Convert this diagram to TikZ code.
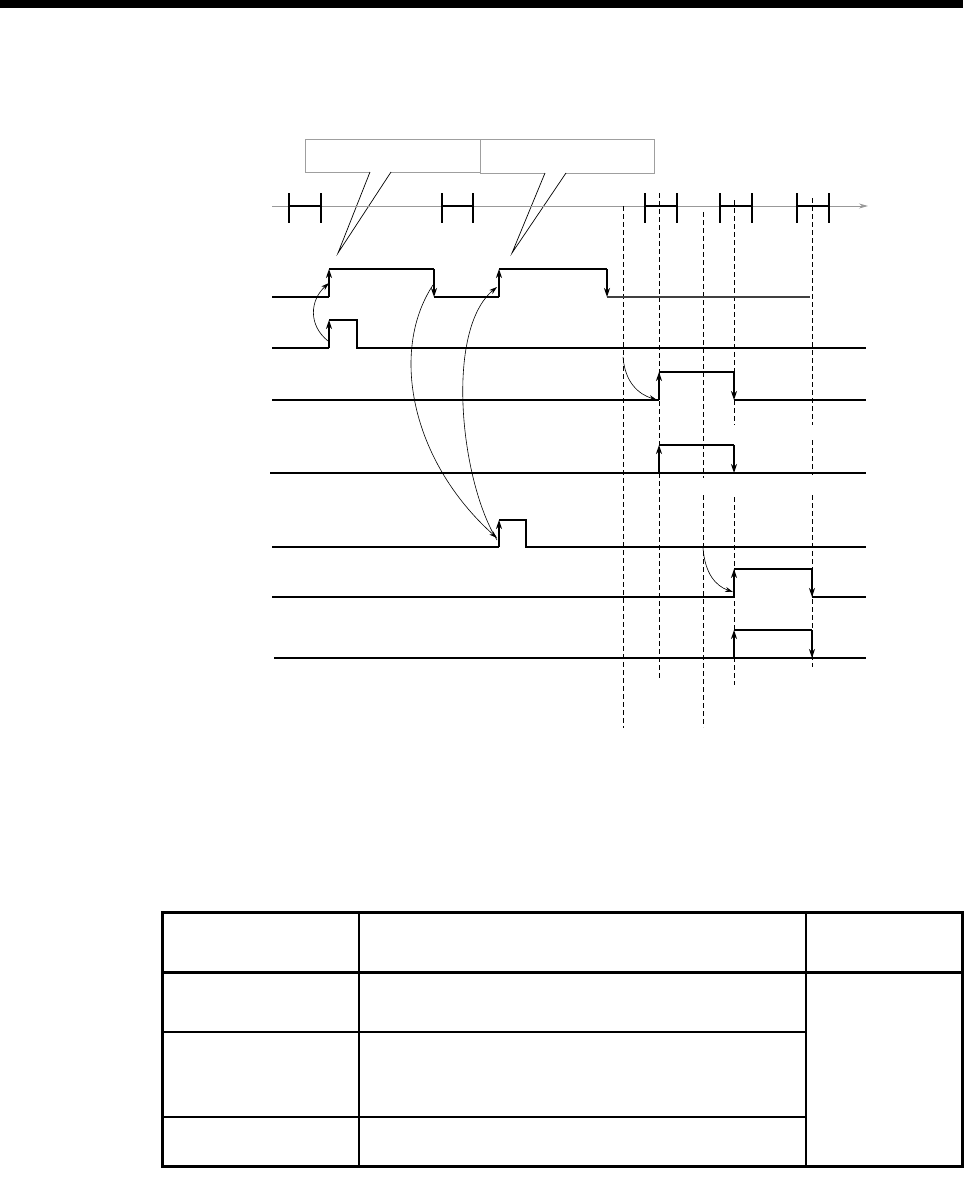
\documentclass[tikz,border=0pt]{standalone}
\usetikzlibrary{arrows.meta}
\begin{document}
\begin{tikzpicture}[x=1pt,y=-1pt,
  sig/.style={line width=1.1pt,line join=miter},
  upedge/.style={line width=1.1pt,-{Stealth[length=9pt,width=6pt]}},
  axisline/.style={line width=0.9pt,draw=gray!70},
  tickline/.style={line width=1.1pt},
  dashline/.style={line width=0.9pt,dash pattern=on 5pt off 3pt},
  callbox/.style={line width=0.8pt,draw=gray!75},
  pointer/.style={line width=0.7pt},
  cause/.style={line width=0.6pt,-{Stealth[length=8pt,width=5pt]}},
  frame/.style={line width=3pt},
  thinrule/.style={line width=1.5pt},
  midrule/.style={line width=2pt}]
\useasboundingbox (0,0) rectangle (964,1178);
% top bar
\fill (0,0) rectangle (963,8);

% callout boxes
\draw[callbox] (370,172) -- (305,172) -- (305,139) -- (480,139) -- (480,172) -- (391,172);
\draw[pointer] (370,172) -- (338,253) -- (391,172);
\draw[callbox] (545,173) -- (480,173) -- (480,139) -- (654,139) -- (654,173) -- (566,173);
\draw[pointer] (545,173) -- (512,253) -- (566,173);

% time axis
\coordinate (axS) at (272,206);
\coordinate (axE) at (868,206);
\draw[axisline,-{Stealth[length=9pt,width=5pt]}, draw=gray!80] (axS) -- (axE);
\foreach \a/\b in {289/321,442/473,645/677,720/752,797/829}{
  \draw[tickline] (\a,193) -- (\a,223);
  \draw[tickline] (\b,193) -- (\b,223);
  \draw[tickline] (\a,206) -- (\b,206);
}

% dashed verticals
\draw[dashline] (623,206) -- (623,728);
\draw[dashline] (659,193) -- (659,678);
\draw[dashline] (703,212) -- (703,478);
\draw[dashline] (703,495) -- (703,727);
\draw[dashline] (734,200) -- (734,425);
\draw[dashline] (734,497) -- (734,685);
\draw[dashline] (812,198) -- (812,425);
\draw[dashline] (812,440) -- (812,475);
\draw[dashline] (812,495) -- (812,667);

% signal A
\draw[sig] (272,297) -- (329,297);
\draw[upedge] (329,297) -- (329,269);
\draw[sig] (329,269) -- (434,269);
\draw[upedge] (434,269) -- (434,297);
\draw[sig] (434,297) -- (499,297);
\draw[upedge] (499,297) -- (499,269);
\draw[sig] (499,269) -- (607,269);
\draw[upedge] (607,269) -- (607,297);
\draw[sig,draw=black!75] (607,297) -- (810,297);

% signal B
\draw[sig] (272,348) -- (329,348);
\draw[upedge] (329,348) -- (329,320);
\draw[sig] (329,320) -- (357,320) -- (357,348) -- (866,348);

% signal C
\draw[sig] (272,400) -- (659,400);
\draw[upedge] (659,400) -- (659,372);
\draw[sig] (659,372) -- (734,372);
\draw[upedge] (734,372) -- (734,400);
\draw[sig] (734,400) -- (866,400);

% signal D
\draw[sig] (270,473) -- (866,473);
\draw[line width=1.6pt] (659,473) -- (760,473);
\draw[upedge] (659,473) -- (659,445);
\draw[sig] (659,445) -- (734,445);
\draw[upedge] (734,445) -- (734,473);

% signal E
\draw[sig] (272,547) -- (499,547);
\draw[upedge] (499,547) -- (499,520);
\draw[sig] (499,520) -- (526,520) -- (526,547) -- (866,547);

% signal F
\draw[sig] (272,597) -- (734,597);
\draw[upedge] (734,597) -- (734,569);
\draw[sig] (734,569) -- (812,569);
\draw[upedge] (812,569) -- (812,597);
\draw[sig] (812,597) -- (866,597);

% signal G
\draw[sig] (274,658) -- (866,658);
\draw[upedge] (734,658) -- (734,630);
\draw[sig] (734,630) -- (812,630);
\draw[upedge] (812,630) -- (812,658);

% cause-effect curves
\coordinate (bRise) at (328,341);
\coordinate (aRise) at (329,283);
\draw[cause] (bRise) .. controls (308,325) and (310,300) .. (aRise);

\coordinate (aFall) at (433,285);
\coordinate (eRise) at (497,538);
\draw[cause] (aFall) .. controls (390,350) and (410,460) .. (eRise);

\coordinate (eRise2) at (497,540);
\coordinate (aRise2) at (497,287);
\draw[cause] (eRise2) .. controls (460,480) and (445,330) .. (aRise2);

\coordinate (cS) at (623,357);
\coordinate (cE) at (657,400);
\draw[cause] (cS) .. controls (625,382) and (638,394) .. (cE);

\coordinate (fS) at (703,548);
\coordinate (fE) at (733,592);
\draw[cause] (fS) .. controls (705,574) and (716,586) .. (fE);

% table
\draw[frame] (162,912) rectangle (962,1166);
\draw[frame] (162,972) -- (962,972);
\draw[midrule] (162,1032) -- (806,1032);
\draw[thinrule] (162,1117) -- (806,1117);
\draw[thinrule] (359,912) -- (359,1166);
\draw[thinrule] (806,912) -- (806,1166);
\end{tikzpicture}
\end{document}
